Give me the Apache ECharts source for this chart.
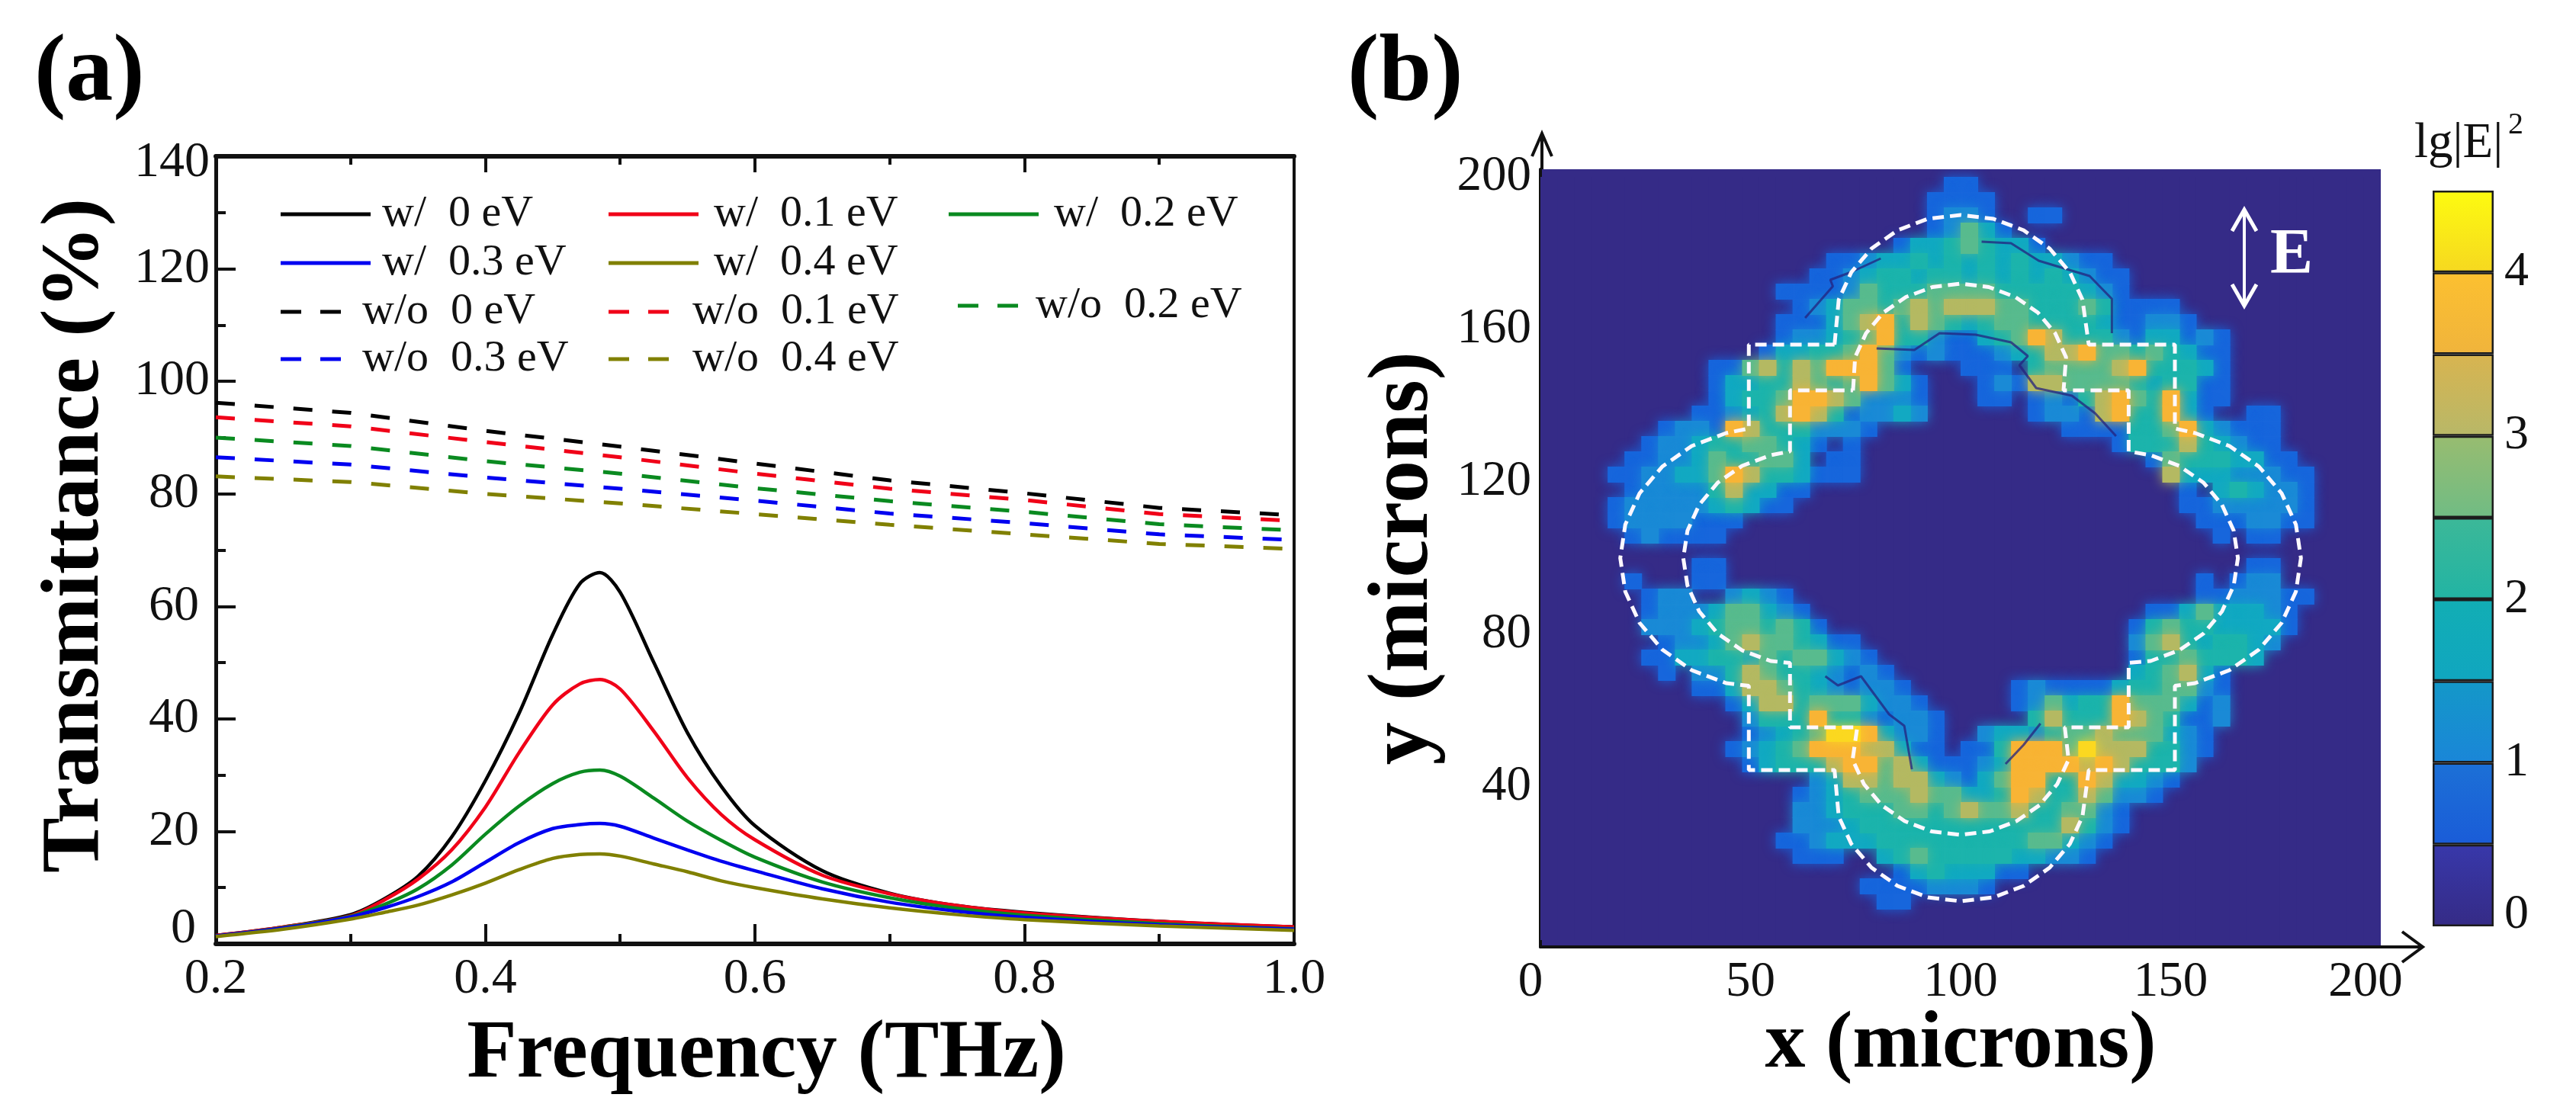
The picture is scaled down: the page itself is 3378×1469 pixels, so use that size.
<!DOCTYPE html>
<html><head><meta charset="utf-8">
<style>html,body{margin:0;padding:0;background:#fff}#c{width:3378px;height:1469px}</style>
<script src="https://cdn.jsdelivr.net/npm/echarts@6/dist/echarts.min.js"></script>
</head><body><div id="c"></div>
<script>
// ---------- panel (a) data ----------
const freqPeak = [.2,.25,.3,.325,.35,.375,.4,.425,.45,.47,.485,.5,.525,.55,.575,.6,.65,.7,.75,.8,.9,1.0];
const with0  = [1.5,3.0,5.2,8.0,12,19,29,41,55,64,66,62.5,50,37.5,28,21,13,9,6.8,5.6,4,3];
const with1  = [1.5,3.0,5.0,7.8,11.5,16.7,24.3,34,42.5,46.2,47,45.3,37.8,29.5,23,18.5,12.2,8.9,6.8,5.5,4,3];
const with2  = [1.4,2.9,4.9,7,9.8,14,19.5,24.5,28.5,30.5,30.9,29.8,25.9,21.8,18.4,15.4,11,8.2,6.3,5.1,3.6,2.7];
const with3  = [1.4,2.8,4.8,6.4,8.4,11,14.5,18,20.5,21.2,21.4,20.9,18.8,16.7,14.7,13,9.8,7.4,5.8,4.7,3.4,2.6];
const with4  = [1.3,2.6,4.4,5.6,6.9,8.7,10.8,13.2,15.2,15.9,16,15.6,14.2,12.8,11.2,10,8,6.4,5.2,4.3,3.2,2.4];
const freqFlat = [.2,.3,.4,.5,.6,.7,.8,.9,1.0];
const without0 = [96.2,94.4,91.2,88.4,85.4,82.4,80.1,77.5,76.2];
const without1 = [93.6,92,89.2,86.5,83.6,80.9,78.9,76.4,75.2];
const without2 = [90,88.5,85.8,83.6,81,78.7,76.8,74.6,73.5];
const without3 = [86.5,85.2,82.9,80.9,78.8,76.5,74.8,72.8,71.8];
const without4 = [83.1,82.1,80,78.3,76.4,74.5,72.8,71.1,70.2];
const namesWith = ['w/  0 eV','w/  0.1 eV','w/  0.2 eV','w/  0.3 eV','w/  0.4 eV'];
const namesWithout = ['w/o  0 eV','w/o  0.1 eV','w/o  0.2 eV','w/o  0.3 eV','w/o  0.4 eV'];
const lineColors = ['#000000','#f00018','#0a8a20','#0000f0','#808000'];

// ---------- panel (b) data: colour band of each 4-micron cell, top row (y=200) first ----------
const fieldRows = [
"0000000000 0000000000 0000110000 0000000000 0000000000",
"0000000000 0000000000 0001111000 0000000000 0000000000",
"0000000000 0000000000 0001221001 1000000000 0000000000",
"0000000000 0000000000 0001253100 0000000000 0000000000",
"0000000000 0000000000 0133454331 0000000000 0000000000",
"0000000000 0000000112 3343434343 3211000000 0000000000",
"0000000000 0000001123 4434434343 4321100000 0000000000",
"0000000000 0000111125 4445555444 4432100000 0000000000",
"0000000000 0000012355 4565666554 4454111100 0000000000",
"0000000000 0000111356 7465434554 4443112210 0000000000",
"0000000000 0000122345 7442113457 6444213312 1000000000",
"0000000000 0001334457 5212111234 6675545431 1000000000",
"0000000000 1156465777 5100011104 5555674443 1000000000",
"0000000000 1334465457 5310001216 6555543441 1000000000",
"0000000000 1344577652 2210001101 2146754731 1000000000",
"0000000001 1234676412 2320000001 2216744731 0011000000",
"0000000122 1764442221 0000000000 0111144573 2111000000",
"0000001223 4455431010 0000000000 0000144464 3211000000",
"0000011223 5445530110 0000000000 0000001544 4331100000",
"0000112233 5764431110 0000000000 0000000633 3222110000",
"0000012222 4633110000 0000000000 0000000010 3432210000",
"0000122222 3431100000 0000000000 0000000011 2222210000",
"0000122221 1100000000 0000000000 0000000001 1122110000",
"0000012111 1000000000 0000000000 0000000000 1011000000",
"0000000000 0000000000 0000000000 0000000000 0000000000",
"0000000001 1000000000 0000000000 0000000000 0011000000",
"0000010001 1000000000 0000000000 0000000001 0122000000",
"0000001220 0232100000 0000000000 0000000001 1222110000",
"0000001222 3553210000 0000000000 0000001135 3332100000",
"0000002223 4554541000 0000000000 0000014544 3333100000",
"0000000122 3565543110 0000000000 0000025643 4432000000",
"0000001133 4435455321 0000000000 0000014454 4430000000",
"0000000102 2465443212 1000000000 0000034563 1000000000",
"0000000001 1366543212 2100000012 1111344552 1000000000",
"0000000000 0136645553 2210000012 5344755531 2000000000",
"0000000000 0024447442 1221000004 6444765411 2000000000",
"0000000000 0012345887 3221002332 4556555321 0000000000",
"0000000000 0123457776 6311011477 7586664421 0000000000",
"0000000000 0013444677 5631112377 7767644420 0000000000",
"0000000000 0000002366 5663213577 4476332100 0000000000",
"0000000000 0000012345 5565533476 4465221000 0000000000",
"0000000000 0000022344 4554565564 4552100000 0000000000",
"0000000000 0000022234 4444444444 4642100000 0000000000",
"0000000000 0000112333 4444444445 5321000000 0000000000",
"0000000000 0000011100 3454444433 2210000000 0000000000",
"0000000000 0000000000 0134333110 0000000000 0000000000",
"0000000000 0000000001 1112221000 0000000000 0000000000",
"0000000000 0000000000 1100000000 0000000000 0000000000",
"0000000000 0000000000 0000000000 0000000000 0000000000",
"0000000000 0000000000 0000000000 0000000000 0000000000"];
const cellMicrons = 4;
const bandColors = ['#352b87','#1766dc','#1a8ad6','#12a9c2','#1cb4ac','#58bb8e','#b4b962','#f8b435','#fbd820'];
const outerOutline = [[70,156],[71,167.8],[74,175],[78.8,181.2],[85,186],[92.2,189],[100,190],[107.8,189],[115,186],[121.2,181.2],[126,175],[129,167.8],[130.5,156],[151,156],[151,134],[155.8,132.8],[164,129.4],[171,124],[176.4,117],[179.8,108.8],[181,100],[179.8,91.2],[176.4,83],[171,76],[164,70.6],[155.8,67.2],[151,66.5],[151,44.4],[130.5,44.4],[129,32.2],[126,25],[121.2,18.8],[115,14],[107.8,11],[100,10],[92.2,11],[85,14],[78.8,18.8],[74,25],[71,32.2],[70,44.4],[49.6,44.4],[49.6,66.5],[44.2,67.2],[36,70.6],[29,76],[23.6,83],[20.2,91.2],[19,100],[20.2,108.8],[23.6,117],[29,124],[36,129.4],[44.2,132.8],[49.6,134],[49.6,156],[70,156]];
const innerOutline = [[74.4,144],[74.9,152.7],[77.5,159],[81.6,164.4],[87,168.5],[93.3,171.1],[100,172],[106.7,171.1],[113,168.5],[118.4,164.4],[122.5,159],[125.1,152.7],[124.5,144],[140,144],[140,128],[145.2,127],[152,124.2],[157.8,119.8],[162.2,114],[165,107.2],[166,100],[165,92.8],[162.2,86],[157.8,80.2],[152,75.8],[145.2,73],[140,72.5],[140,55.6],[124.8,55.6],[125.7,47.1],[123,40.7],[118.8,35.2],[113.3,31],[106.9,28.3],[100,27.4],[93.1,28.3],[86.7,31],[81.2,35.2],[77,40.7],[74.3,47.1],[75.4,55.6],[59.4,55.6],[59.4,72.5],[54.8,73],[48,75.8],[42.2,80.2],[37.8,86],[35,92.8],[34,100],[35,107.2],[37.8,114],[42.2,119.8],[48,124.2],[54.8,127],[59.4,128],[59.4,144],[74.4,144]];
const darkContours = [
 [[80,155],[89,154.6],[95,159],[103.6,158.6],[112,156.6],[116,153],[114,150.6],[118,144.6],[126.5,142.6],[132,138],[137,132]],
 [[81,178.6],[73.9,175],[69,173],[69.6,171.3],[63,163]],
 [[105,183],[112,182.6],[118.6,178],[130.7,174],[136,168],[136,159]],
 [[110.7,46],[115,51],[119,56.6]],
 [[67.8,69],[70.8,66.6],[76.3,69],[83,59],[86.6,56],[88.4,44.6]]];
const colorbarBandWidths = [.5,.5,.5,.5,.5,.5,.5,.5,.5];
const colorbarStops = [['#352b86','#3838aa'],['#1a5cd8','#1c70d6'],['#1a86d8','#1498c8'],['#10a6c0','#12aeb4'],['#22b4a4','#3cb898'],['#70bc84','#98bc70'],['#b8b868','#d8b450'],['#f0b43c','#fcc030'],['#f6d820','#fdfb10']];
const xTicksB = [0,50,100,150,200];
const yTicksB = [40,80,120,160,200];

// ---------- build ----------
const SERIF = '"Liberation Serif","DejaVu Serif",serif';
const pair = (xs, ys) => xs.map((x,i)=>[x,ys[i]]);
const withSets = [with0,with1,with2,with3,with4];
const withoutSets = [without0,without1,without2,without3,without4];
const series = [];
withoutSets.forEach((d,i)=>series.push({name:namesWithout[i],type:'line',xAxisIndex:0,yAxisIndex:0,data:pair(freqFlat,d),showSymbol:false,symbol:'none',
  lineStyle:{color:lineColors[i],width:5,type:[25,26]},itemStyle:{color:lineColors[i]},z:3}));
withSets.forEach((d,i)=>series.push({name:namesWith[i],type:'line',xAxisIndex:0,yAxisIndex:0,data:pair(freqPeak,d),smooth:.3,showSymbol:false,symbol:'none',
  lineStyle:{color:lineColors[i],width:4.5},itemStyle:{color:lineColors[i]},z:4+i}));

const cells = [];
fieldRows.forEach((row,r)=>{ row.replace(/ /g,'').split('').forEach((ch,c)=>{
  cells.push([c*cellMicrons, 200-(r+1)*cellMicrons, Number(ch)]);
});});
cells.sort((a,b)=>a[2]-b[2]);
series.push({type:'custom',xAxisIndex:1,yAxisIndex:1,coordinateSystem:'cartesian2d',data:cells,clip:true,progressive:0,silent:true,z:2,
  encode:{x:0,y:1},
  renderItem:(params,api)=>{
    const x=api.value(0), y=api.value(1), b=api.value(2);
    const a=api.coord([x,y+cellMicrons]), e=api.coord([x+cellMicrons,y]);
    const blur = b>0 ? 16 : 0;
    return {type:'rect',shape:{x:a[0],y:a[1],width:e[0]-a[0]+1,height:e[1]-a[1]+1},
      style:{fill:bandColors[b],shadowBlur:blur,shadowColor:bandColors[b]}};
  }});
darkContours.forEach(o=>series.push({type:'line',xAxisIndex:1,yAxisIndex:1,data:o,showSymbol:false,symbol:'none',silent:true,
  lineStyle:{color:'#24227e',width:3,opacity:.75},z:5}));
[outerOutline,innerOutline].forEach(o=>series.push({type:'line',xAxisIndex:1,yAxisIndex:1,data:o,showSymbol:false,symbol:'none',silent:true,
  lineStyle:{color:'#fdf8ff',width:5,type:[15,8]},z:6}));
colorbarBandWidths.forEach((w,i)=>series.push({type:'bar',xAxisIndex:3,yAxisIndex:3,stack:'bar',barWidth:'100%',data:[w],silent:true,
  itemStyle:{borderColor:'#1c1c1c',borderWidth:2.5,color:new echarts.graphic.LinearGradient(0,1,0,0,[{offset:0,color:colorbarStops[i][0]},{offset:1,color:colorbarStops[i][1]}])}}));

const solidIcon = 'path://M0 0H118V5H0Z';
const dashedIcon = 'path://M0 0H27V5H0Z M52 0H79V5H52Z';
const legendSpots = [
 [namesWith[0],363,283,118,15,solidIcon],[namesWith[1],793,283,118,20,solidIcon],[namesWith[2],1239,283,118,20,solidIcon],
 [namesWith[3],363,347,118,15,solidIcon],[namesWith[4],793,347,118,20,solidIcon],
 [namesWithout[0],363,411,79,28,dashedIcon],[namesWithout[1],793,411,79,31,dashedIcon],[namesWithout[2],1251,403,79,23,dashedIcon],
 [namesWithout[3],363,473,79,28,dashedIcon],[namesWithout[4],793,473,79,31,dashedIcon]];
const legends = legendSpots.map(s=>({show:true,selectedMode:false,left:s[1],top:s[2]-36,itemWidth:s[3],itemHeight:5,icon:s[5],data:[{name:s[0],icon:s[5]}],
  textStyle:{fontFamily:SERIF,fontSize:58,color:'#111',padding:[0,0,0,s[4]-5]}}));

const label = (size,extra)=>Object.assign({fontFamily:SERIF,fontSize:size,color:'#111'},extra||{});
const option = {
 animation:false,backgroundColor:'#fff',
 title:[{text:'(a)',left:40,top:32,textStyle:{fontFamily:SERIF,fontWeight:'bold',fontSize:124,color:'#000'}},
        {text:'(b)',left:1762,top:32,textStyle:{fontFamily:SERIF,fontWeight:'bold',fontSize:124,color:'#000'}}],
 legend:legends,
 grid:[{left:283,top:205,width:1414,height:1033},
       {left:2020,top:222,width:1102,height:1020,show:true,backgroundColor:bandColors[0],borderWidth:0},
       {left:3190,top:250,width:80,height:965}],
 xAxis:[
  {gridIndex:0,type:'value',min:.2,max:1,interval:.2,position:'bottom',name:'Frequency (THz)',nameLocation:'middle',nameGap:93,nameMoveOverlap:false,
   nameTextStyle:{fontFamily:SERIF,fontWeight:'bold',fontSize:107,color:'#000',padding:[0,0,0,30]},
   axisLine:{onZero:false,lineStyle:{color:'#111',width:6}},axisTick:{inside:true,length:26,lineStyle:{color:'#111',width:4}},
   minorTick:{show:true,splitNumber:2,length:13,lineStyle:{color:'#111',width:4}},splitLine:{show:false},minorSplitLine:{show:false},
   axisLabel:label(66,{margin:14,formatter:v=>v.toFixed(1)})},
  {gridIndex:1,type:'value',min:0,max:200,position:'bottom',name:'x (microns)',nameLocation:'middle',nameGap:77,nameMoveOverlap:false,
   nameTextStyle:{fontFamily:SERIF,fontWeight:'bold',fontSize:106,color:'#000',padding:[0,0,0,0]},
   axisLine:{onZero:false,lineStyle:{color:'#111',width:4}},axisTick:{show:false},splitLine:{show:false},
   axisLabel:label(65,{margin:14,customValues:xTicksB,
     formatter:v=>v===0?'{z|0}':v===200?'{m|200}':'{n|'+v+'}',
     rich:{n:{fontFamily:SERIF,fontSize:65,color:'#111'},z:{fontFamily:SERIF,fontSize:65,color:'#111',padding:[0,26,0,0]},m:{fontFamily:SERIF,fontSize:65,color:'#111',padding:[0,40,0,0]}}})},
  {gridIndex:0,type:'value',min:.2,max:1,interval:.2,position:'top',axisLine:{onZero:false,lineStyle:{color:'#111',width:6}},
   axisTick:{inside:true,length:21,lineStyle:{color:'#111',width:4}},minorTick:{show:true,splitNumber:2,length:11,lineStyle:{color:'#111',width:4}},
   axisLabel:{show:false},splitLine:{show:false}},
  {gridIndex:2,type:'category',data:['band'],axisLine:{show:false},axisTick:{show:false},axisLabel:{show:false}}
 ],
 yAxis:[
  {gridIndex:0,type:'value',min:0,max:140,interval:20,name:'Transmittance (%)',nameLocation:'middle',nameGap:129,nameMoveOverlap:false,
   nameTextStyle:{fontFamily:SERIF,fontWeight:'bold',fontSize:109,color:'#000',padding:[0,0,0,38]},
   axisLine:{onZero:false,lineStyle:{color:'#111',width:5}},axisTick:{inside:true,length:26,lineStyle:{color:'#111',width:4}},
   minorTick:{show:true,splitNumber:2,length:13,lineStyle:{color:'#111',width:4}},splitLine:{show:false},
   axisLabel:{margin:8,formatter:v=>v===0?'{z|0}':v===140?'{t|140}':v>=100?'{h|'+v+'}':'{n|'+v+'}',
     rich:{n:{fontFamily:SERIF,fontSize:66,color:'#111',padding:[0,14,0,0]},h:{fontFamily:SERIF,fontSize:66,color:'#111'},
       t:{fontFamily:SERIF,fontSize:66,color:'#111',padding:[18,0,0,0]},z:{fontFamily:SERIF,fontSize:66,color:'#111',padding:[0,18,38,0]}}}},
  {gridIndex:1,type:'value',min:-2,max:202,position:'left',name:'y (microns)',nameLocation:'middle',nameGap:122,nameMoveOverlap:false,
   nameTextStyle:{fontFamily:SERIF,fontWeight:'bold',fontSize:112,color:'#000'},
   axisLine:{onZero:false,lineStyle:{color:'#111',width:4}},axisTick:{show:false},splitLine:{show:false},
   axisLabel:label(65,{margin:12,customValues:yTicksB})},
  {gridIndex:0,type:'value',min:0,max:140,position:'right',axisLine:{onZero:false,lineStyle:{color:'#111',width:4}},axisTick:{show:false},axisLabel:{show:false},splitLine:{show:false}},
  {gridIndex:2,type:'value',min:0,max:4.5,interval:.5,position:'right',z:5,axisLine:{show:false},splitLine:{show:false},
   axisTick:{show:false},
   axisLabel:{margin:14,formatter:v=>v%1===0?(v===0?'{z|0}':'{n|'+v+'}'):'',
     rich:{n:{fontFamily:SERIF,fontSize:64,color:'#111'},z:{fontFamily:SERIF,fontSize:64,color:'#111',padding:[0,0,30,0]}}}}
 ],
 series,
 graphic:[
  // frame arrows of panel (b)
  {type:'polyline',shape:{points:[[3122,1242],[3177,1242]]},style:{stroke:'#111',lineWidth:4,fill:null}},
  {type:'polyline',shape:{points:[[3150,1222],[3177,1242],[3150,1262]]},style:{stroke:'#111',lineWidth:4,fill:null}},
  {type:'polyline',shape:{points:[[2022,222],[2022,175]]},style:{stroke:'#111',lineWidth:4,fill:null}},
  {type:'polyline',shape:{points:[[2009,205],[2022,175],[2035,205]]},style:{stroke:'#111',lineWidth:4,fill:null}},
  // polarisation marker
  {type:'polyline',z:20,shape:{points:[[2943,275],[2943,401]]},style:{stroke:'#fff',lineWidth:4,fill:null}},
  {type:'polyline',z:20,shape:{points:[[2927,303],[2943,275],[2959,303]]},style:{stroke:'#fff',lineWidth:5,fill:null}},
  {type:'polyline',z:20,shape:{points:[[2927,373],[2943,401],[2959,373]]},style:{stroke:'#fff',lineWidth:5,fill:null}},
  {type:'text',z:20,left:2977,top:294,style:{text:'E',fill:'#fff',font:'bold 84px '+SERIF}},
  // colourbar heading
  {type:'text',left:3166,top:156,style:{text:'lg|E|',fill:'#111',font:'65px '+SERIF}},
  {type:'text',left:3289,top:144,style:{text:'2',fill:'#111',font:'40px '+SERIF}}
 ]
};
const chart = echarts.init(document.getElementById('c'),null,{renderer:'canvas',width:3378,height:1469});
chart.setOption(option);
</script></body></html>
